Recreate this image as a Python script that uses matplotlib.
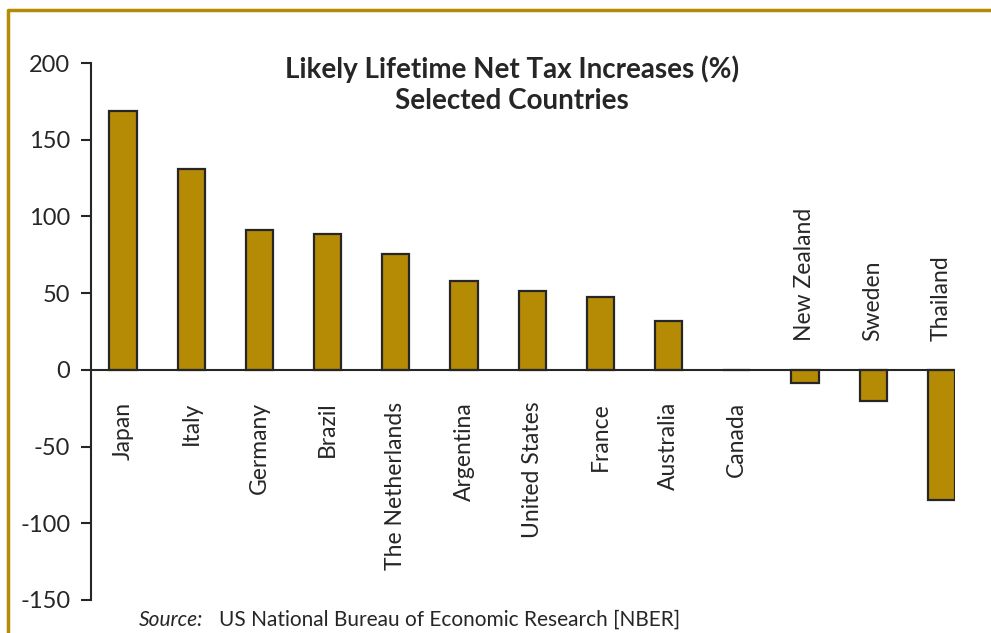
import matplotlib
matplotlib.use("Agg")
import matplotlib.pyplot as plt
from matplotlib.lines import Line2D

# ==========================================================
# Data
# ==========================================================

COUNTRIES = [
    "Japan", "Italy", "Germany", "Brazil", "The Netherlands",
    "Argentina", "United States", "France", "Australia", "Canada",
    "New Zealand", "Sweden", "Thailand",
]

VALUES = [169, 131, 91, 88.5, 75.5, 58, 51.5, 47.5, 32, 0, -8.5, -20, -85]

Y_TICKS = [200, 150, 100, 50, 0, -50, -100, -150]

TITLE = "Likely Lifetime Net Tax Increases (%)\nSelected Countries"

GOLD = "#B58A04"
DARK = "#262626"

plt.rcParams["font.family"] = ["Lato", "DejaVu Sans"]

# ==========================================================
# Figure
# ==========================================================

fig = plt.figure(figsize=(9.91, 6.33), dpi=100)
ax = fig.add_axes([91 / 991, 1 - 600 / 633, 864 / 991, 537 / 633])

x = list(range(len(COUNTRIES)))
ax.bar(x, VALUES, width=0.4, color=GOLD, edgecolor=DARK, linewidth=1.6, zorder=3)
ax.axhline(0, color=DARK, linewidth=1.5, zorder=4)

ax.set_xlim(-0.47, 12.2)
ax.set_ylim(-150, 200)
ax.set_yticks(Y_TICKS)
ax.set_yticklabels([str(t) for t in Y_TICKS])
ax.tick_params(axis="y", direction="out", length=7, width=1.5, color=DARK,
               labelsize=17, labelcolor=DARK, pad=8)
ax.set_xticks([])

for side in ["top", "right", "bottom"]:
    ax.spines[side].set_visible(False)
ax.spines["left"].set_linewidth(1.5)
ax.spines["left"].set_color(DARK)

# country labels, below the zero line for positives, above for negatives
for xi, name, v in zip(x, COUNTRIES, VALUES):
    if v >= 0:
        ax.annotate(name, (xi, 0), xytext=(0, -23), textcoords="offset points",
                    rotation=90, ha="center", va="top", fontsize=16.5, color=DARK)
    else:
        ax.annotate(name, (xi, 0), xytext=(0, 21), textcoords="offset points",
                    rotation=90, ha="center", va="bottom", fontsize=16.5, color=DARK)

fig.text(512 / 991, 1 - 55 / 633, TITLE, ha="center", va="top",
         fontsize=20, fontweight="bold", color=DARK, linespacing=1.25)

fig.text(139 / 991, 1 - 620 / 633, "Source:", ha="left", va="center",
         fontsize=15, style="italic", color=DARK)
fig.text(219 / 991, 1 - 620 / 633, "US National Bureau of Economic Research [NBER]",
         ha="left", va="center", fontsize=15, color=DARK)

# gold frame (top and left edges)
frame = Line2D([7.5 / 991, 7.5 / 991, 1.0], [0.0, 1 - 10 / 633, 1 - 10 / 633],
               transform=fig.transFigure, color=GOLD, linewidth=2.5)
fig.add_artist(frame)

fig.savefig("out.png", dpi=100)
